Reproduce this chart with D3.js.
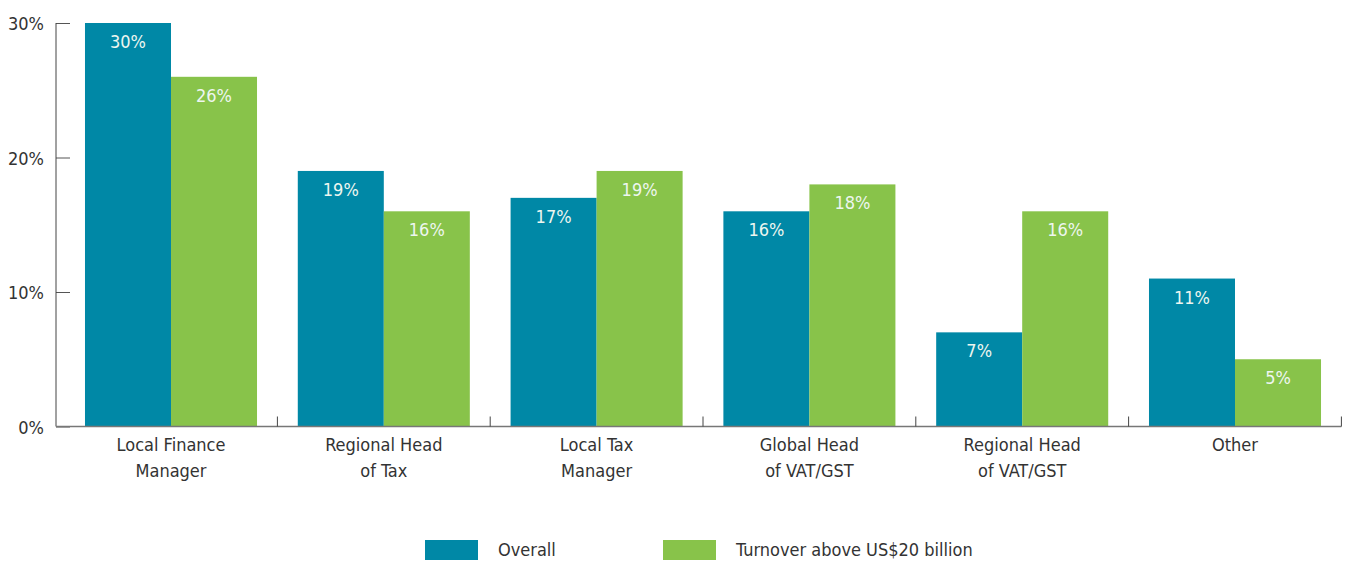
<!DOCTYPE html>
<html>
<head>
<meta charset="utf-8">
<script src="https://cdn.jsdelivr.net/npm/d3@7"></script>
<style>
  body { margin: 0; background: #fff; }
  svg { display: block; font-family: "DejaVu Sans Condensed", "DejaVu Sans", sans-serif; font-stretch: condensed; }
</style>
</head>
<body>
<script>
var categories = [["Local Finance", "Manager"], ["Regional Head", "of Tax"], ["Local Tax", "Manager"],
                  ["Global Head", "of VAT/GST"], ["Regional Head", "of VAT/GST"], ["Other"]];
var seriesNames = ["Overall", "Turnover above US$20 billion"];
var overall = [30, 19, 17, 16, 7, 11];
var turnover = [26, 16, 19, 18, 16, 5];
var yTicks = [0, 10, 20, 30];
var colors = ["#0088a6", "#88c34a"];

var width = 1349, height = 561;
var margin = {axis: 56, left: 64.6, right: 1341.4, top: 23, bottom: 426.5};

var svg = d3.select("body").append("svg")
    .attr("width", width).attr("height", height);

var keys = categories.map(function(d){ return d.join(" "); });

var x = d3.scaleBand().domain(keys).range([margin.left, margin.right]);
var x1 = d3.scaleBand().domain([0, 1]).range([0, x.bandwidth()]).paddingOuter(0.237);
var y = d3.scaleLinear().domain([0, 30]).range([margin.bottom, margin.top]);

var data = keys.map(function(k, i){ return {key: k, vals: [overall[i], turnover[i]]}; });

var groups = svg.selectAll(".grp").data(data).enter().append("g")
    .attr("class", "grp")
    .attr("transform", function(d){ return "translate(" + x(d.key) + ",0)"; });

groups.selectAll("rect").data(function(d){ return d.vals; }).enter().append("rect")
    .attr("x", function(d, i){ return x1(i); })
    .attr("y", function(d){ return y(d); })
    .attr("width", x1.bandwidth())
    .attr("height", function(d){ return margin.bottom - y(d); })
    .attr("fill", function(d, i){ return colors[i]; });

groups.selectAll(".val").data(function(d){ return d.vals; }).enter().append("text")
    .attr("class", "val")
    .attr("x", function(d, i){ return x1(i) + x1.bandwidth() / 2; })
    .attr("y", function(d){ return y(d) + 25; })
    .attr("text-anchor", "middle")
    .attr("font-size", "18px")
    .attr("fill", "#eef6f0")
    .text(function(d){ return d + "%"; });

// y axis
var yAxis = d3.axisRight(y).tickValues(yTicks).tickSize(14).tickFormat("");
var yg = svg.append("g").attr("transform", "translate(" + margin.axis + ",0)").call(yAxis);
yg.select(".domain").remove();
yg.selectAll(".tick line").attr("stroke", "#555");
yg.append("line").attr("x1", 0).attr("x2", 0).attr("y1", margin.top).attr("y2", margin.bottom).attr("stroke", "#444");

svg.selectAll(".ylab").data(yTicks).enter().append("text")
    .attr("class", "ylab")
    .attr("x", 44)
    .attr("y", function(d){ return y(d) + 7; })
    .attr("text-anchor", "end")
    .attr("font-size", "18px")
    .attr("fill", "#333")
    .text(function(d){ return d + "%"; });

// x axis
svg.append("line").attr("x1", margin.axis).attr("x2", margin.right).attr("y1", margin.bottom).attr("y2", margin.bottom)
    .attr("stroke", "#777").attr("stroke-width", 1.5);
svg.selectAll(".xtick").data(keys).enter().append("line")
    .attr("class", "xtick")
    .attr("x1", function(d){ return x(d) + x.bandwidth(); })
    .attr("x2", function(d){ return x(d) + x.bandwidth(); })
    .attr("y1", margin.bottom).attr("y2", margin.bottom - 10)
    .attr("stroke", "#444");

var xl = svg.selectAll(".xlab").data(categories).enter().append("text")
    .attr("class", "xlab")
    .attr("text-anchor", "middle")
    .attr("font-size", "18px")
    .attr("fill", "#333")
    .attr("transform", function(d, i){ return "translate(" + (x(keys[i]) + x.bandwidth() / 2) + ",451)"; });
xl.selectAll("tspan").data(function(d){ return d; }).enter().append("tspan")
    .attr("x", 0)
    .attr("y", function(d, i){ return i * 26; })
    .text(function(d){ return d; });

// legend
var legendX = [425, 663];
var lg = svg.selectAll(".leg").data(seriesNames).enter().append("g")
    .attr("class", "leg")
    .attr("transform", function(d, i){ return "translate(" + legendX[i] + ",540)"; });
lg.append("rect").attr("width", 53).attr("height", 20).attr("fill", function(d, i){ return colors[i]; });
lg.append("text").attr("x", 73).attr("y", 16).attr("font-size", "18px").attr("fill", "#333")
    .text(function(d){ return d; });
</script>
</body>
</html>
